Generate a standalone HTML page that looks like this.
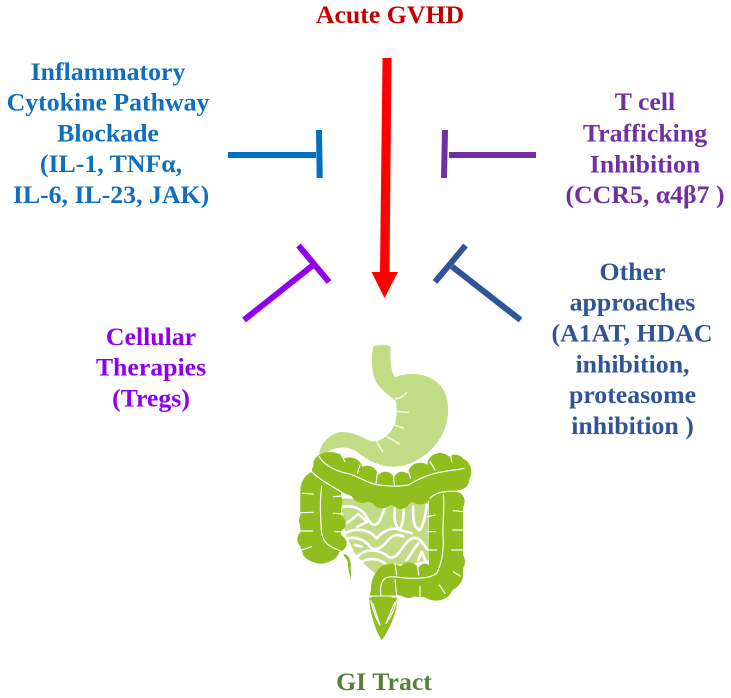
<!DOCTYPE html>
<html><head><meta charset="utf-8"><style>
html,body{margin:0;padding:0;background:#fff}
svg{display:block}
text{font-family:"Liberation Serif",serif;font-weight:bold;font-size:25.8px;text-anchor:middle}
</style></head><body>
<svg width="731" height="698" viewBox="0 0 731 698" xmlns="http://www.w3.org/2000/svg">
<text x="390" y="23" fill="#C00000">Acute GVHD</text>
<g fill="#0F6FBE">
<text x="108" y="80">Inflammatory</text>
<text x="108" y="110.7">Cytokine Pathway</text>
<text x="108" y="141.7">Blockade</text>
<text x="111" y="172">(IL-1, TNFα,</text>
<text x="111" y="203">IL-6, IL-23, JAK)</text>
</g>
<g fill="#7030A0">
<text x="645" y="110">T cell</text>
<text x="645" y="141.5">Trafficking</text>
<text x="645" y="172.5">Inhibition</text>
<text x="645" y="203">(CCR5, α4β7 )</text>
</g>
<g fill="#2F5597">
<text x="632.5" y="280">Other</text>
<text x="632.5" y="310.7">approaches</text>
<text x="632" y="341.7">(A1AT, HDAC</text>
<text x="632.5" y="372.5">inhibition,</text>
<text x="632.5" y="403">proteasome</text>
<text x="632.5" y="434">inhibition )</text>
</g>
<g fill="#9000F0">
<text x="151" y="345">Cellular</text>
<text x="151" y="375.7">Therapies</text>
<text x="151" y="406.7">(Tregs)</text>
</g>
<text x="384" y="690" fill="#548235">GI Tract</text>

<polygon points="382.5,58 391.5,58 389.5,272 398,272 384.5,298 371.5,272 380,272" fill="#FF0000"/>

<rect x="228" y="152" width="88" height="6" fill="#0070C0"/>
<polygon points="316,130 322,130 322.7,178 316.7,178" fill="#0070C0"/>
<rect x="449" y="152" width="87" height="6" fill="#7030A0"/>
<polygon points="442,130 448,130 447,178 441,178" fill="#7030A0"/>
<g fill="none" stroke-width="6">
<path d="M244 320 L312 266" stroke="#9000EE"/>
<path d="M298.500 245.500 L329 282" stroke="#9000EE"/>
<path d="M520.500 320 L452 266.500" stroke="#2F5597"/>
<path d="M465.500 245.500 L435 282" stroke="#2F5597"/>
</g>

<g transform="translate(280 330) scale(.33333)">
<!-- small intestine -->
<path d="M185 505 L445 515 L448 690 L400 700 L340 705 L290 735 L250 700 L225 670 L200 620 L185 570Z" fill="#C2DC85"/>
<g fill="none" stroke="#fff" stroke-width="8" stroke-linecap="round" stroke-linejoin="round">
<path d="M190 530 C225 525 250 540 262 565 C275 590 290 590 300 570 L318 525"/>
<path d="M200 580 L235 552 L262 575 L232 590"/>
<path d="M195 610 C230 590 270 600 290 625 C310 600 340 590 360 600 L395 610"/>
<path d="M345 535 C340 565 345 590 360 598 C370 580 372 550 370 530"/>
<path d="M400 530 C398 565 400 595 420 600 C432 580 438 545 440 525"/>
<path d="M205 625 C230 620 255 630 270 650 C285 665 305 655 320 635 C335 615 355 610 370 620"/>
<path d="M232 680 C260 650 300 660 325 680 C345 690 355 670 370 650 C385 630 400 615 420 630 L440 655"/>
<path d="M238 700 C265 680 300 685 320 705"/>
<path d="M380 690 C395 670 405 650 415 640"/>
<path d="M415 690 L425 665 L435 690"/>
<path d="M225 645 L245 650"/>
</g>
<!-- stomach -->
<path d="M280 48 Q305 42 331 48 C332 75 328 115 345 142 C385 125 445 128 480 165 C515 205 510 280 480 325 C450 375 390 412 335 410 C290 408 255 385 225 362 C195 345 150 350 120 385 C112 365 128 330 160 313 C195 295 235 315 275 335 C305 335 335 310 345 280 C352 255 352 225 345 210 C320 190 285 170 278 125 C274 95 276 70 280 48Z" fill="#C2DC85"/>
<g fill="none" stroke="#fff" stroke-width="3.500" stroke-linecap="round" stroke-linejoin="round">
<path d="M346 207 C360 205 372 198 380 188"/>
<path d="M352 245 L385 247"/>
<path d="M344 285 L370 295"/>
<path d="M318 318 L358 342"/>
<path d="M290 335 L308 365"/>
</g>
<!-- colon -->
<g fill="none" stroke="#8FBE1E" stroke-linejoin="round" stroke-linecap="round">
<path d="M140 425 C200 440 270 480 320 482 C370 485 430 460 480 435 L530 425" stroke-width="88"/>
<path d="M122 480 L122 640" stroke-width="122"/>
<path d="M498 520 L498 720" stroke-width="102"/>
<path d="M505 735 C480 760 440 760 400 755 C370 755 345 750 330 745" stroke-width="88"/>
<path d="M325 745 C305 755 305 775 305 800" stroke-width="60"/>
</g>
<g fill="#8FBE1E">
<ellipse cx="150" cy="402" rx="50" ry="36"/>
<ellipse cx="135" cy="425" rx="40" ry="30"/>
<ellipse cx="208" cy="418" rx="40" ry="36"/>
<ellipse cx="262" cy="440" rx="32" ry="33"/>
<ellipse cx="316" cy="455" rx="28" ry="30"/>
<ellipse cx="366" cy="455" rx="26" ry="30"/>
<ellipse cx="420" cy="432" rx="36" ry="34"/>
<ellipse cx="480" cy="405" rx="38" ry="36"/>
<ellipse cx="525" cy="398" rx="28" ry="24"/>
<ellipse cx="535" cy="448" rx="33" ry="32"/>
<ellipse cx="480" cy="468" rx="40" ry="28"/>
<ellipse cx="420" cy="490" rx="36" ry="33"/>
<ellipse cx="362" cy="505" rx="30" ry="32"/>
<ellipse cx="306" cy="503" rx="32" ry="32"/>
<ellipse cx="248" cy="485" rx="36" ry="34"/>
<ellipse cx="100" cy="470" rx="26" ry="32"/>
<ellipse cx="93" cy="518" rx="27" ry="30"/>
<ellipse cx="87" cy="572" rx="30" ry="30"/>
<ellipse cx="84" cy="628" rx="32" ry="30"/>
<ellipse cx="122" cy="665" rx="55" ry="33"/>
<ellipse cx="160" cy="640" rx="40" ry="30"/>
<ellipse cx="155" cy="580" rx="42" ry="32"/>
<ellipse cx="155" cy="515" rx="32" ry="38"/>
<ellipse cx="522" cy="515" rx="32" ry="32"/>
<ellipse cx="518" cy="575" rx="30" ry="30"/>
<ellipse cx="516" cy="630" rx="30" ry="30"/>
<ellipse cx="522" cy="695" rx="33" ry="35"/>
<ellipse cx="468" cy="770" rx="50" ry="42"/>
<ellipse cx="505" cy="740" rx="38" ry="35"/>
<ellipse cx="385" cy="772" rx="34" ry="32"/>
<ellipse cx="387" cy="725" rx="30" ry="28"/>
<ellipse cx="435" cy="725" rx="22" ry="24"/>
<ellipse cx="330" cy="740" rx="45" ry="35"/>
<path d="M273 780 C272 740 290 715 325 705 L350 750 L352 800 L268 800Z"/>
<path d="M268 803 L352 803 C352 850 325 905 305 930 C290 910 268 850 268 803Z"/>
<path d="M190 672 C205 672 215 690 212 712 C212 725 215 735 213 746 C205 730 205 705 202 692 C198 684 192 680 190 672Z"/>
</g>
<g fill="none" stroke="#fff" stroke-linecap="round" stroke-linejoin="round" stroke-width="3.500">
<path d="M95 425 C120 450 150 465 190 490 L205 500"/>
<path d="M118 380 C130 405 170 425 210 432 C245 445 275 465 300 465 C330 470 355 470 385 465 C410 450 450 430 490 425 C515 420 535 420 552 415"/>
<path d="M125 470 C118 520 122 570 125 610 C130 640 150 650 175 660 L195 670"/>
<path d="M490 495 C495 540 485 590 490 630 C490 670 485 700 470 730 C450 745 420 745 390 745 C365 745 335 735 315 745 C303 755 300 770 303 798"/>
<path d="M450 505 C470 482 520 480 548 488"/>
<path d="M68 490 L100 492"/>
<path d="M62 548 L100 547"/>
<path d="M55 603 L98 603"/>
<path d="M65 660 L95 650"/>
<path d="M160 500 L185 498"/>
<path d="M160 550 L190 552"/>
<path d="M165 605 L195 605"/>
<path d="M512 375 L515 395"/>
<path d="M450 395 L465 420"/>
<path d="M385 425 L392 445"/>
<path d="M340 430 L343 465"/>
<path d="M292 430 L288 462"/>
<path d="M240 405 L232 430"/>
<path d="M185 375 L195 395"/>
<path d="M552 545 L520 542"/>
<path d="M548 600 L518 600"/>
<path d="M548 660 L515 660"/>
<path d="M442 560 L465 555"/>
<path d="M442 605 L465 605"/>
<path d="M442 660 L470 660"/>
<path d="M520 725 L540 738"/>
<path d="M478 765 L495 790"/>
<path d="M420 770 L420 800"/>
<path d="M345 750 L350 795"/>
<path d="M345 700 L350 735"/>
<path d="M412 700 L416 735"/>
<path d="M268 798 L352 798" stroke-width="3"/>
<path d="M272 812 C280 845 290 870 300 885 L278 820"/>
<path d="M350 810 C342 845 330 865 318 880 L344 818"/>
</g>
</g>
</svg>
</body></html>
